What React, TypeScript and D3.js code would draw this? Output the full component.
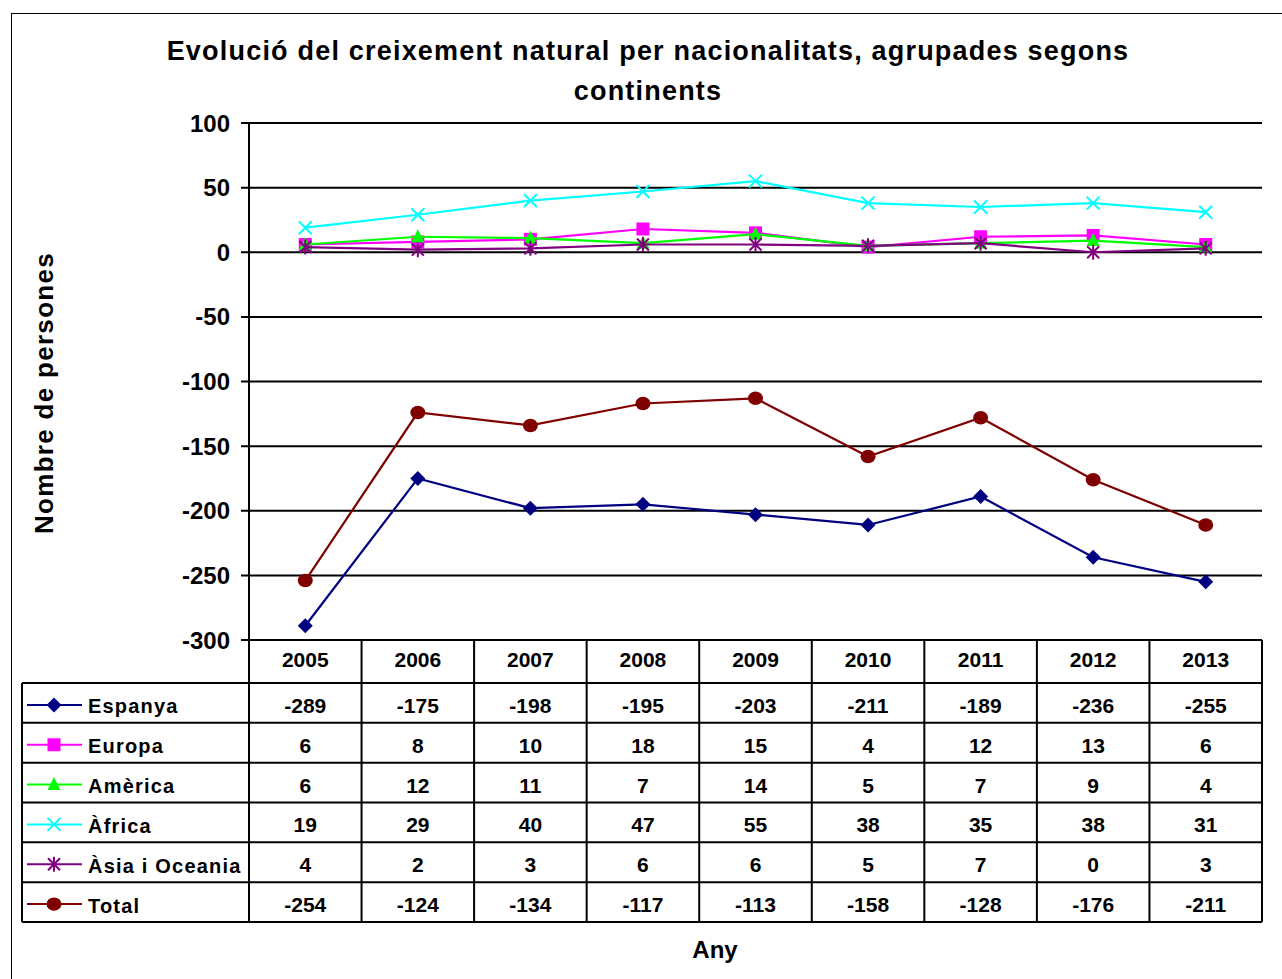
import React from "react";
import * as d3 from "d3";

const years = ["2005", "2006", "2007", "2008", "2009", "2010", "2011", "2012", "2013"];
const seriesNames = ["Espanya", "Europa", "Amèrica", "Àfrica", "Àsia i Oceania", "Total"];
const espanya = [-289, -175, -198, -195, -203, -211, -189, -236, -255];
const europa = [6, 8, 10, 18, 15, 4, 12, 13, 6];
const america = [6, 12, 11, 7, 14, 5, 7, 9, 4];
const africa = [19, 29, 40, 47, 55, 38, 35, 38, 31];
const asia = [4, 2, 3, 6, 6, 5, 7, 0, 3];
const total = [-254, -124, -134, -117, -113, -158, -128, -176, -211];
const yTicks = [100, 50, 0, -50, -100, -150, -200, -250, -300];
const colors = ["#000080", "#FF00FF", "#00FF00", "#00FFFF", "#800080", "#800000"];
const markers = ["diamond", "square", "triangle", "x", "star", "circle"];
const seriesValues = [espanya, europa, america, africa, asia, total];

const FONT = "'Liberation Sans', Arial, sans-serif";

function Marker({ type, x, y, color }: { type: string; x: number; y: number; color: string }) {
  const s = 7.5;
  switch (type) {
    case "diamond":
      return <path d={`M${x},${y - s}L${x + s},${y}L${x},${y + s}L${x - s},${y}Z`} fill={color} />;
    case "square":
      return <rect x={x - 6.5} y={y - 6.5} width={13} height={13} fill={color} />;
    case "triangle":
      return <path d={`M${x},${y - 7.5}L${x + 6.5},${y + 5.5}L${x - 6.5},${y + 5.5}Z`} fill={color} />;
    case "x":
      return (
        <path d={`M${x - 6.5},${y - 6.5}L${x + 6.5},${y + 6.5}M${x - 6.5},${y + 6.5}L${x + 6.5},${y - 6.5}`} stroke={color} strokeWidth={2} />
      );
    case "star":
      return (
        <path
          d={`M${x - 6},${y - 6}L${x + 6},${y + 6}M${x - 6},${y + 6}L${x + 6},${y - 6}M${x},${y - 7.5}L${x},${y + 7.5}`}
          stroke={color}
          strokeWidth={2}
        />
      );
    case "circle":
      return <ellipse cx={x} cy={y} rx={7.5} ry={6.7} fill={color} />;
    default:
      return null;
  }
}

export default function App() {
  const W = 1282;
  const H = 979;
  const x0 = 249;
  const x1 = 1262;
  const y = d3.scaleLinear().domain([-300, 100]).range([640, 123]);
  const xb = d3.scaleBand().domain(years).range([x0, x1]).paddingInner(0).paddingOuter(0);
  const cx = (yr: string) => (xb(yr) as number) + xb.bandwidth() / 2;
  const rows = d3.scaleBand().domain(seriesNames).range([683, 922]);
  const tableLeft = 22;
  const headerTop = 640;
  const tableBottom = 922;

  const line = d3
    .line<number>()
    .x((_, i) => cx(years[i]))
    .y((v) => y(v));

  return (
    <div style={{ position: "absolute", left: 0, top: 0 }}>
      <svg width={W} height={H} style={{ display: "block", background: "#fff" }} fontFamily={FONT}>
        <rect x={0} y={0} width={W} height={H} fill="#fff" />
        <rect x={11.5} y={13.5} width={1300} height={1000} fill="none" stroke="#000" strokeWidth={1} />
        {/* Title */}
        <text x={648} y={60} textAnchor="middle" fontSize={27} fontWeight="bold" letterSpacing={1.2}>
          Evolució del creixement natural per nacionalitats, agrupades segons
        </text>
        <text x={648} y={100} textAnchor="middle" fontSize={27} fontWeight="bold" letterSpacing={1.2}>
          continents
        </text>
        {/* Gridlines and ticks */}
        {yTicks.map((t) => (
          <g key={t}>
            <line x1={241} x2={x1} y1={y(t)} y2={y(t)} stroke="#000" strokeWidth={2} />
            <text x={230} y={y(t) + 8.5} textAnchor="end" fontSize={24} fontWeight="bold">
              {t}
            </text>
          </g>
        ))}
        <line x1={x0} x2={x0} y1={y(100)} y2={y(-300)} stroke="#000" strokeWidth={2} />
        {/* Series */}
        {seriesValues.map((vals, si) => (
          <g key={seriesNames[si]}>
            <path d={line(vals) || ""} fill="none" stroke={colors[si]} strokeWidth={2.2} />
            {vals.map((v, i) => (
              <Marker key={i} type={markers[si]} x={cx(years[i])} y={y(v)} color={colors[si]} />
            ))}
          </g>
        ))}
        {/* Data table */}
        {years.map((yr) => (
          <line key={"v" + yr} x1={xb(yr) as number} x2={xb(yr) as number} y1={headerTop} y2={tableBottom} stroke="#000" strokeWidth={2} />
        ))}
        <line x1={x1} x2={x1} y1={headerTop} y2={tableBottom} stroke="#000" strokeWidth={2} />
        <line x1={tableLeft} x2={tableLeft} y1={683} y2={tableBottom} stroke="#000" strokeWidth={2} />
        {seriesNames.map((n) => (
          <line key={"h" + n} x1={tableLeft} x2={x1} y1={rows(n) as number} y2={rows(n) as number} stroke="#000" strokeWidth={2} />
        ))}
        <line x1={tableLeft} x2={x1} y1={tableBottom} y2={tableBottom} stroke="#000" strokeWidth={2} />
        {years.map((yr) => (
          <text key={"t" + yr} x={cx(yr)} y={667} textAnchor="middle" fontSize={21} fontWeight="bold">
            {yr}
          </text>
        ))}
        {seriesNames.map((n, si) => {
          const ry = (rows(n) as number) + rows.bandwidth() / 2;
          return (
            <g key={"r" + n}>
              <line x1={27} x2={82} y1={ry + 2} y2={ry + 2} stroke={colors[si]} strokeWidth={2} />
              <Marker type={markers[si]} x={54} y={ry + 2} color={colors[si]} />
              <text x={88} y={ry + 10.5} fontSize={20} fontWeight="bold" letterSpacing={1.2}>
                {n}
              </text>
              {seriesValues[si].map((v, i) => (
                <text key={i} x={cx(years[i])} y={ry + 10} textAnchor="middle" fontSize={21} fontWeight="bold">
                  {v}
                </text>
              ))}
            </g>
          );
        })}
        {/* Axis titles */}
        <text x={715} y={958} textAnchor="middle" fontSize={24} fontWeight="bold">
          Any
        </text>
        <text transform="translate(53,393) rotate(-90)" textAnchor="middle" fontSize={26} fontWeight="bold" letterSpacing={1.3}>
          Nombre de persones
        </text>
      </svg>
    </div>
  );
}
